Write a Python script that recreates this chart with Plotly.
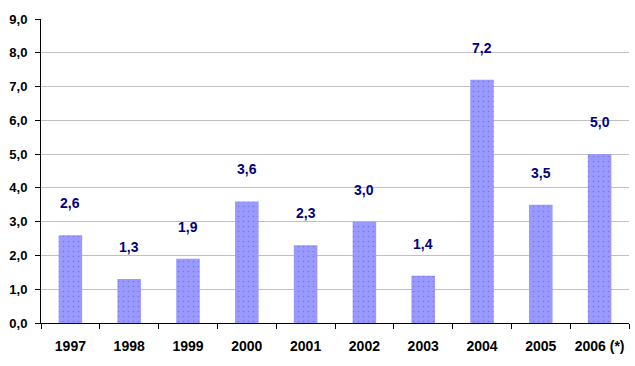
import plotly.graph_objects as go

years = ["1997", "1998", "1999", "2000", "2001", "2002", "2003", "2004", "2005", "2006 (*)"]
values = [2.6, 1.3, 1.9, 3.6, 2.3, 3.0, 1.4, 7.2, 3.5, 5.0]
y_ticks = [0, 1, 2, 3, 4, 5, 6, 7, 8, 9]

FONT = "Liberation Sans, Arial, sans-serif"

fig = go.Figure()
fig.add_trace(go.Bar(
    x=years, y=values, width=0.4,
    marker=dict(color="#9999FF", line=dict(width=0),
                pattern=dict(shape=".", size=5, solidity=0.08, fgcolor="#5555AA", bgcolor="#9999FF")),
    showlegend=False,
))
for i, yv in enumerate(values):
    fig.add_annotation(x=i, y=yv, text=f"{yv:.1f}".replace(".", ","), showarrow=False,
                       yanchor="bottom", yshift=22,
                       font=dict(family=FONT, size=14, color="#000080", weight="bold"))

fig.update_layout(
    width=635, height=366,
    margin=dict(l=41, r=6, t=19, b=43),
    paper_bgcolor="white", plot_bgcolor="white",
    separators=", ",
    font=dict(family=FONT, size=13, color="black", weight="bold"),
)
fig.update_yaxes(range=[0, 9], tickvals=y_ticks, tickformat=".1f",
                 showgrid=True, gridcolor="#C0C0C0", gridwidth=1,
                 showline=True, linecolor="black", linewidth=1,
                 ticks="outside", ticklen=5, tickcolor="black", zeroline=False,
                 ticklabelstandoff=5, tickfont=dict(size=13))
fig.update_xaxes(type="category", range=[-0.5, len(years) - 0.5],
                 showline=True, linecolor="black", linewidth=1,
                 ticks="outside", ticklen=5, tickcolor="black", tickson="boundaries",
                 showgrid=False, tickangle=0, ticklabelstandoff=10,
                 tickfont=dict(size=14))
fig.write_html("out.html", config={"displayModeBar": False},
               post_script="document.body.style.margin='0';document.body.style.overflow='hidden';")
